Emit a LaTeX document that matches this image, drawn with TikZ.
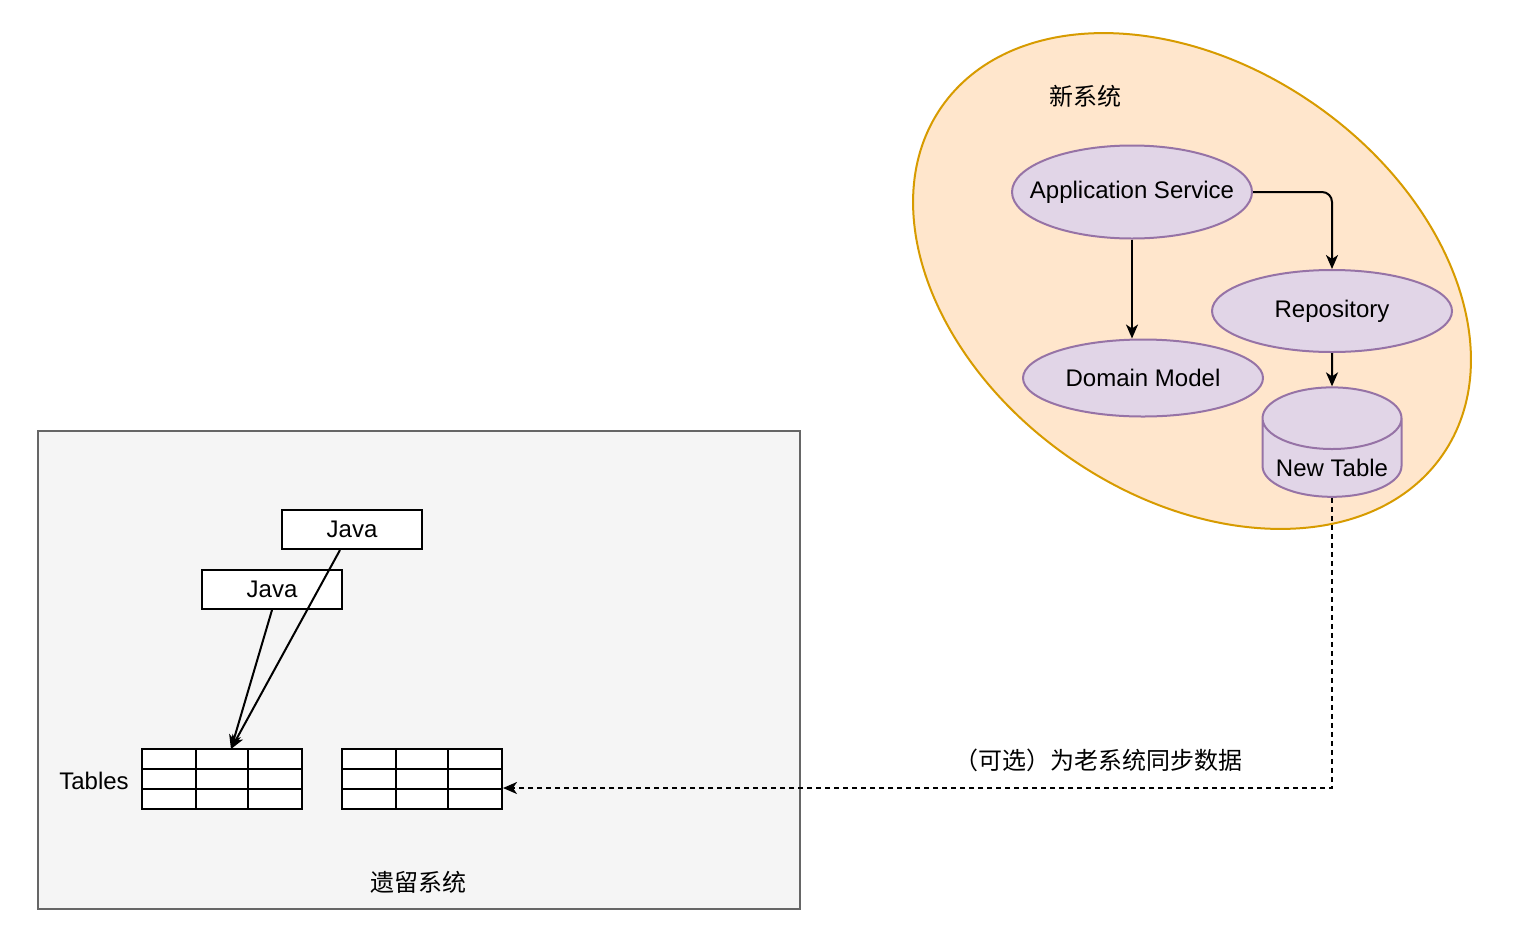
\documentclass[tikz,border=0pt]{standalone}
\usepackage{fontspec}
\setmainfont{Liberation Sans}
\newfontfamily\cjk{Noto Sans CJK SC}
\usetikzlibrary{shapes.geometric,arrows.meta,calc}

\definecolor{oldfill}{HTML}{F5F5F5}
\definecolor{oldline}{HTML}{666666}
\definecolor{newfill}{HTML}{FFE6CC}
\definecolor{newline}{HTML}{D79B00}
\definecolor{partfill}{HTML}{E1D5E7}
\definecolor{partline}{HTML}{9673A6}

\tikzset{
  part/.style={ellipse, draw=partline, fill=partfill, line width=1pt, minimum width=120pt, inner ysep=0pt, inner xsep=-12pt},
  javabox/.style={draw, fill=white, line width=1pt, minimum width=70pt, minimum height=19.5pt, inner sep=0pt},
  tablebox/.style={draw, fill=white, line width=1pt, minimum width=80pt, minimum height=30pt, inner sep=0pt},
  flow/.style={line width=1pt, -{Stealth[length=7pt, width=6pt, inset=2pt]}},
}

\begin{document}
\begin{tikzpicture}[x=0.5pt, y=-0.5pt, font=\fontsize{12pt}{14pt}\selectfont]
\useasboundingbox (0,0) rectangle (1530,948);

\node[draw=oldline, fill=oldfill, line width=1pt, minimum width=381pt, minimum height=239pt] (legacy) at (419,670) {};
\node (legacylbl) at (418,882) {\cjk 遗留系统};

\node[javabox] (javaA) at (352,529.5) {Java};
\node[javabox] (javaB) at (272,589.5) {Java};

\node (tableslbl) at (94,781) {Tables};
\node[tablebox] (tab1) at (222,779) {};
\node[tablebox] (tab2) at (422,779) {};
\foreach \t in {tab1,tab2} {
  \foreach \f in {0.34,0.66}
    \draw[line width=1pt] ($(\t.north west)!\f!(\t.north east)$) -- ($(\t.south west)!\f!(\t.south east)$);
  \foreach \f in {0.333,0.667}
    \draw[line width=1pt] ($(\t.north west)!\f!(\t.south west)$) -- ($(\t.north east)!\f!(\t.south east)$);
}
\coordinate (tabin) at (231,749);
\coordinate (syncin) at (503,788);

\draw[flow] ([xshift=-6pt]javaA.south) -- (tabin);
\draw[flow] (javaB.south) -- (tabin);

\node[ellipse, draw=newline, fill=newfill, line width=1pt, minimum width=610pt/2, minimum height=430pt/2, inner sep=0pt, rotate=-34.8] (newsys) at (1192,281) {};
\node (newsyslbl) at (1085,96) {\cjk 新系统};

\node[part, minimum height=46.5pt] (app) at (1132,192) {Application Service};
\node[part, minimum height=38.5pt] (dom) at (1143,378) {Domain Model};
\node[part, minimum height=41pt] (repo) at (1332,311) {Repository};
\node[cylinder, shape border rotate=90, aspect=0.55, draw=partline, fill=partfill, line width=1pt, minimum width=69.5pt, minimum height=52.5pt, inner sep=0pt] (newtab) at (1332,458) {\raisebox{-5pt}[8pt][0pt]{New Table}};

\draw[flow] (app.south) -- (app.south |- dom.north);
\draw[flow, rounded corners=5pt] (app.east) -| (repo.north);
\draw[flow] (repo.south) -- (newtab.north);

\draw[flow, dash pattern=on 2.5pt off 2pt] (newtab.south) |- (syncin);
\node (synclbl) at (1098,760) {\cjk （可选）为老系统同步数据};
\end{tikzpicture}
\end{document}
